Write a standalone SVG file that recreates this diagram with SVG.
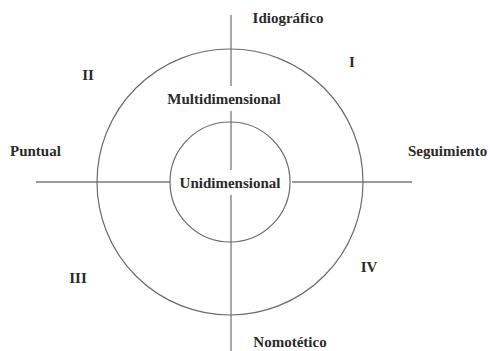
<svg xmlns="http://www.w3.org/2000/svg" width="490" height="351" viewBox="0 0 490 351">
<style>
.ln{stroke:#7a7a7a;stroke-width:1.3;fill:none}
.c{stroke:#6a6a6a;stroke-width:1.2;fill:none}
text{font-family:"Liberation Serif","Times New Roman",serif;font-size:15px;font-weight:bold;fill:#2a2a2a}
.m{text-anchor:middle}
</style>
<rect width="490" height="351" fill="#fff"/>
<g id="connectors">
<line class="ln" x1="231" y1="15" x2="231" y2="86"/>
<line class="ln" x1="231" y1="111" x2="231" y2="170"/>
<line class="ln" x1="231" y1="195" x2="231" y2="351"/>
<line class="ln" x1="36" y1="182" x2="170" y2="182"/>
<line class="ln" x1="292" y1="182" x2="412" y2="182"/>
</g>
<g id="outer-circle"><circle class="c" cx="230" cy="182" r="133"/></g>
<g id="inner-circle"><circle class="c" cx="230" cy="182" r="60"/></g>
<g id="idiografico"><text class="m" x="288" y="23">Idiográfico</text></g>
<g id="nomotetico"><text class="m" x="290" y="347">Nomotético</text></g>
<g id="puntual"><text x="10" y="156">Puntual</text></g>
<g id="seguimiento"><text x="408" y="156">Seguimiento</text></g>
<g id="multidimensional"><text class="m" x="224" y="104">Multidimensional</text></g>
<g id="unidimensional"><text class="m" x="230" y="188">Unidimensional</text></g>
<g id="q1"><text class="m" x="352" y="67">I</text></g>
<g id="q2"><text class="m" x="88" y="80">II</text></g>
<g id="q3"><text class="m" x="78" y="283">III</text></g>
<g id="q4"><text class="m" x="369" y="272">IV</text></g>
</svg>
